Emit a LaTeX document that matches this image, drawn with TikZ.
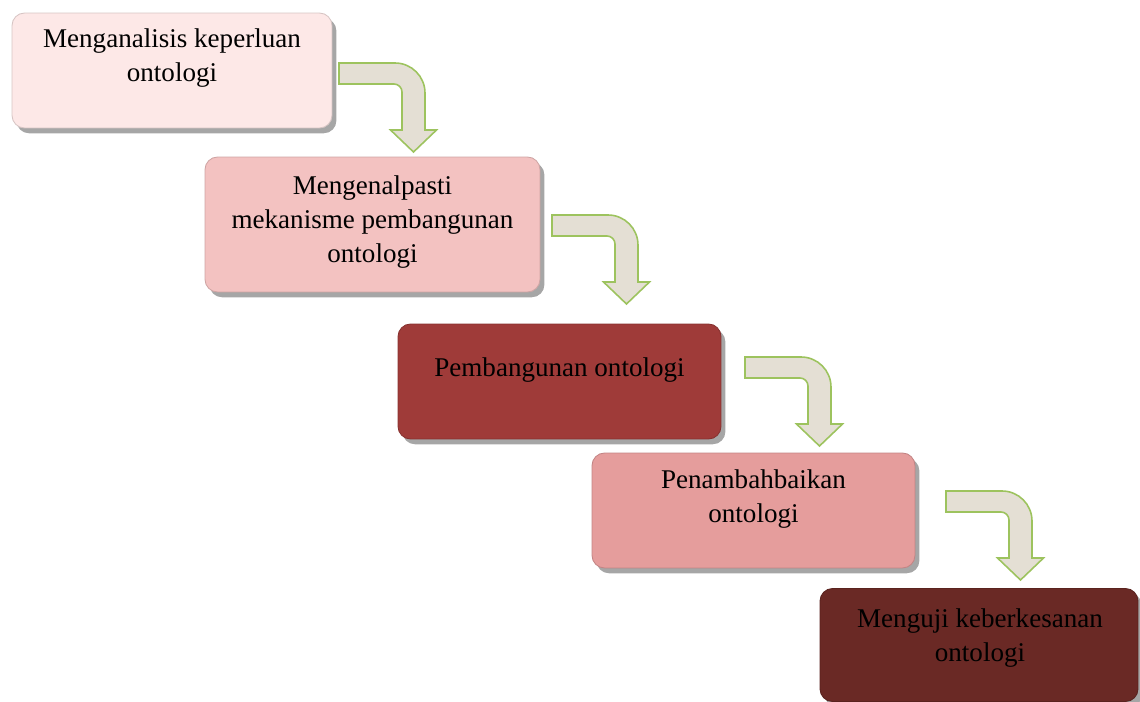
\documentclass[tikz,border=0pt]{standalone}
\usepackage{fontspec}
\setmainfont{Liberation Serif}
\usetikzlibrary{shadows}
\definecolor{stageA}{HTML}{FDE8E7}
\definecolor{stageB}{HTML}{F3C2C1}
\definecolor{stageC}{HTML}{9F3B39}
\definecolor{stageD}{HTML}{E59D9C}
\definecolor{stageE}{HTML}{6A2925}
\definecolor{arrowfill}{HTML}{E4DFD4}
\definecolor{arrowline}{HTML}{9DC35E}
\tikzset{
	stage/.style={rectangle, rounded corners=0.25cm, draw=#1!85!black, fill=#1, line width=0.5pt,
		drop shadow={shadow xshift=2.5pt, shadow yshift=-3pt, fill=black, opacity=0.35}},
	stagetext/.style={align=center, font=\fontsize{15.4}{19.6}\selectfont, inner sep=0pt},
	flowarrow/.style={fill=arrowfill, draw=arrowline, line width=0.9pt, line join=miter}
}
\def\bentarrow(#1,#2){\draw[flowarrow, shift={(#1,#2)}] (0,0) -- (56,0) arc (-90:0:30) -- (86,67) -- (97.5,67) -- (74.5,89) -- (51.5,67) -- (63,67) -- (63,29) arc (0:-90:8) -- (0,21) -- cycle;}

\begin{document}
\begin{tikzpicture}[x=0.02cm, y=-0.02cm]
			%%%%% START %%%%%
			\useasboundingbox (0,0) rectangle (1140,702);
			
			\node[stage=stageA, minimum width=6.4cm, minimum height=2.3cm] (s1) at (172,70.5) {};
			\node[stagetext] (t1) at (172,58) {Menganalisis keperluan\\ontologi};
			
			\node[stage=stageB, minimum width=6.7cm, minimum height=2.7cm] (s2) at (372.5,224.5) {};
			\node[stagetext] (t2) at (372.5,222) {Mengenalpasti\\mekanisme pembangunan\\ontologi};
			
			\node[stage=stageC, minimum width=6.46cm, minimum height=2.3cm] (s3) at (559.5,381.5) {};
			\node[stagetext] (t3) at (559.5,370) {Pembangunan ontologi};
			
			\node[stage=stageD, minimum width=6.46cm, minimum height=2.3cm] (s4) at (753.5,510.5) {};
			\node[stagetext] (t4) at (753.5,499) {Penambahbaikan\\ontologi};
			
			\node[stage=stageE, minimum width=6.36cm, minimum height=2.26cm] (s5) at (979,645) {};
			\node[stagetext] (t5) at (980,638) {Menguji keberkesanan\\ontologi};
			
			% bent arrows between the stages
			\bentarrow(339,63)
			\bentarrow(552,215)
			\bentarrow(745,357)
			\bentarrow(946,491)
			
			%%%%% END %%%%%
\end{tikzpicture}
\end{document}
